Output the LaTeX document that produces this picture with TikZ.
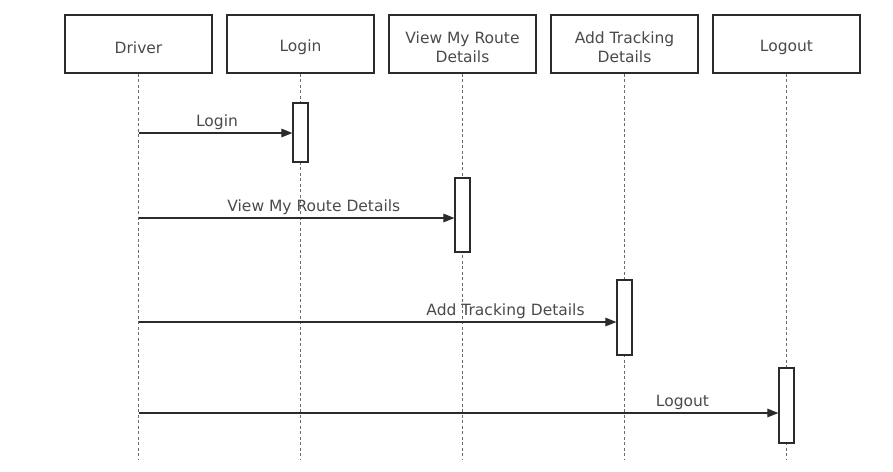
\documentclass[tikz,border=0pt]{standalone}
\usepackage{fontspec}
\setmainfont{DejaVu Sans}
\usepackage{tikz}
\usetikzlibrary{arrows.meta,positioning}
\definecolor{sqink}{HTML}{2B2B2B}
\definecolor{sqtext}{HTML}{4A4A4A}
\definecolor{sqlife}{HTML}{6A6A6A}
\newcommand{\headstrut}{\rule{0pt}{18.5pt}}
\tikzset{
  head/.style = {rectangle, draw=sqink, line width=1.2pt, fill=white, align=center,
                 minimum width=147pt, minimum height=58pt, inner sep=2pt,
                 text=sqtext, font=\fontsize{15.5}{19}\selectfont},
  act/.style  = {rectangle, draw=sqink, line width=1.2pt, fill=white,
                 minimum width=15pt, inner sep=0pt},
  life/.style = {line width=1pt, draw=sqlife, dash pattern=on 3pt off 2.5pt},
  msg/.style  = {-{Triangle[length=11pt,width=8.5pt]}, line width=1.1pt, draw=sqink},
  lbl/.style  = {text=sqtext, font=\fontsize{15.5}{19}\selectfont, inner sep=1pt},
}
\begin{document}
\begin{tikzpicture}[x=1pt, y=-1pt, node distance=13.8pt]
\useasboundingbox (0,0) rectangle (893,471);

% --- lifeline heads
\node[head] (driver) at (138.5,44) {\headstrut Driver};
\node[head, right=of driver] (login) {\headstrut Login};
\node[head, right=of login] (route) {\headstrut View My Route\\Details};
\node[head, right=of route] (track) {\headstrut Add Tracking\\Details};
\node[head, right=of track] (logout) {\headstrut Logout};

% --- lifelines
\coordinate (bottom) at (0,460);
\foreach \n in {driver,login,route,track,logout}
  \draw[life] (\n.south) -- (\n |- bottom);

% --- activations
\node[act, minimum height=59pt] (loginact) at (login |- 0,132.5) {};
\node[act, minimum height=74pt] (routeact) at (route |- 0,215) {};
\node[act, minimum height=75pt] (trackact) at (track |- 0,317.5) {};
\node[act, minimum height=75pt] (logoutact) at (logout |- 0,405.5) {};

% --- messages
\coordinate (m1) at (driver |- 0,133);
\coordinate (m2) at (driver |- 0,218);
\coordinate (m3) at (driver |- 0,322);
\coordinate (m4) at (driver |- 0,413);
\draw[msg] (m1) -- node[lbl, above=1.5pt, pos=0.51]{Login} (m1 -| loginact.west);
\draw[msg] (m2) -- node[lbl, above=1.5pt, pos=0.555]{View My Route Details} (m2 -| routeact.west);
\draw[msg] (m3) -- node[lbl, above=1.5pt, pos=0.768]{Add Tracking Details} (m3 -| trackact.west);
\draw[msg] (m4) -- node[lbl, above=1.5pt, pos=0.85]{Logout} (m4 -| logoutact.west);

\end{tikzpicture}
\end{document}
